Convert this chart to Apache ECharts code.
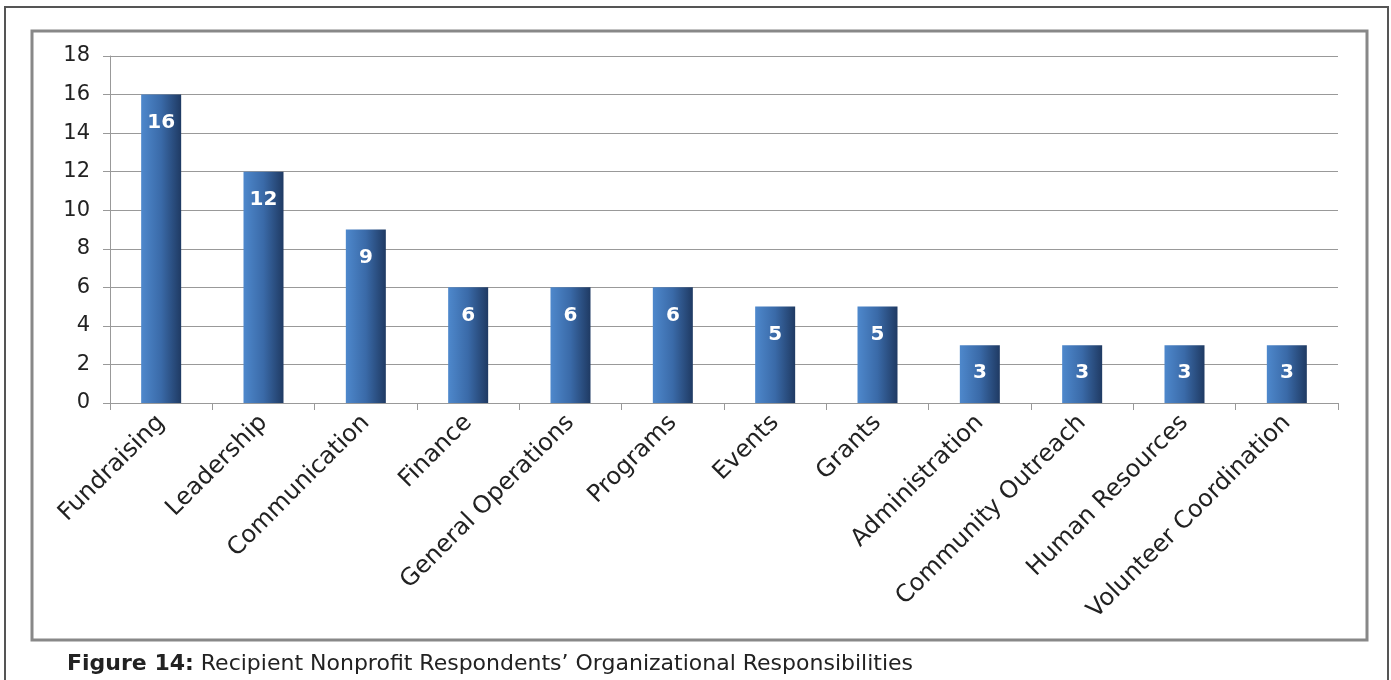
<!DOCTYPE html>
<html><head><meta charset="utf-8">
<script src="https://cdn.jsdelivr.net/npm/echarts@6/dist/echarts.min.js"></script>
<style>html,body{margin:0;padding:0;background:#fff}#c{width:1391px;height:680px}</style>
</head><body><div id="c"></div>
<script>
const categories = ["Fundraising","Leadership","Communication","Finance","General Operations","Programs","Events","Grants","Administration","Community Outreach","Human Resources","Volunteer Coordination"];
const counts = [16,12,9,6,6,6,5,5,3,3,3,3];
const yTicks = {min:0,max:18,interval:2};
const caption = ["Figure 14:"," Recipient Nonprofit Respondents\u2019 Organizational Responsibilities"];

const FONT = "'DejaVu Sans', sans-serif";
const chart = echarts.init(document.getElementById('c'));
chart.setOption({
  animation:false,
  graphic:[
    {type:'rect',shape:{x:5,y:7,width:1383,height:700},style:{fill:'none',stroke:'#555',lineWidth:2},silent:true},
    {type:'rect',shape:{x:32,y:31,width:1335,height:609},style:{fill:'none',stroke:'#888',lineWidth:3},silent:true},
    {type:'text',left:67,top:653,style:{rich:{b:{fontWeight:'bold',fontSize:22,fontFamily:FONT,fill:'#222'},n:{fontSize:22,fontFamily:FONT,fill:'#222'}},text:'{b|'+caption[0]+'}{n|'+caption[1]+'}'}}
  ],
  grid:{left:110,right:53,top:56,bottom:277,containLabel:false},
  xAxis:{type:'category',data:categories,boundaryGap:true,
    axisLine:{lineStyle:{color:'#999',width:1}},
    axisTick:{show:true,alignWithLabel:false,length:7,lineStyle:{color:'#999'}},
    axisLabel:{rotate:45,interval:0,fontSize:24,fontFamily:FONT,color:'#222',margin:16}},
  yAxis:{type:'value',min:yTicks.min,max:yTicks.max,interval:yTicks.interval,
    axisLine:{show:true,lineStyle:{color:'#999'}},
    axisTick:{show:true,length:7,lineStyle:{color:'#999'}},
    splitLine:{lineStyle:{color:'#999',width:1}},
    axisLabel:{fontSize:21,fontFamily:FONT,color:'#222',margin:20}},
  series:[{type:'bar',data:counts,barWidth:40,
    itemStyle:{color:new echarts.graphic.LinearGradient(0,0,1,0,[{offset:0,color:'#4e88cc'},{offset:0.5,color:'#3a6aa8'},{offset:1,color:'#1f3a63'}])},
    label:{show:true,position:'insideTop',distance:18,color:'#fff',fontWeight:'bold',fontSize:20,fontFamily:FONT}}]
});
</script></body></html>
